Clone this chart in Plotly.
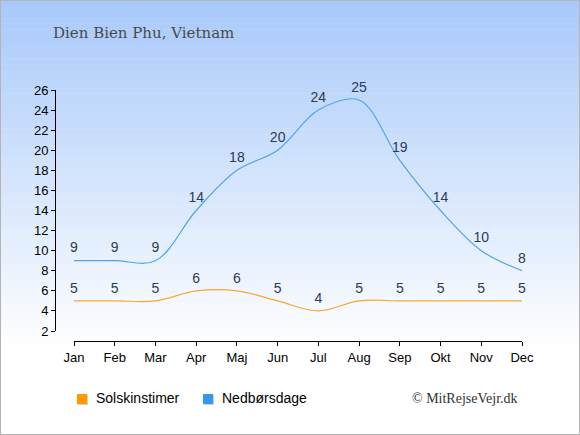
import plotly.graph_objects as go

# Data
months = ["Jan", "Feb", "Mar", "Apr", "Maj", "Jun", "Jul", "Aug", "Sep", "Okt", "Nov", "Dec"]
sol = [5, 5, 5, 6, 6, 5, 4, 5, 5, 5, 5, 5]          # Solskinstimer
regn = [9, 9, 9, 14, 18, 20, 24, 25, 19, 14, 10, 8]  # Nedbørsdage
ytick_vals = list(range(2, 27, 2))
series_names = ["Solskinstimer", "Nedbørsdage"]

W, H = 580, 435


def px_x(x):  # pixel -> paper fraction
    return x / W


def px_y(y):
    return 1 - y / H


fig = go.Figure()

lbl_font = dict(family="Liberation Sans", size=14, color="#2c3b58")
fig.add_trace(go.Scatter(
    x=months, y=sol, mode="lines+markers+text", text=[str(v) for v in sol],
    textposition="top center", textfont=lbl_font, name=series_names[0],
    marker=dict(size=6, opacity=0),
    line=dict(color="#f7a733", width=1.2, shape="spline", smoothing=1),
    showlegend=False, cliponaxis=False, hoverinfo="skip",
))
fig.add_trace(go.Scatter(
    x=months, y=regn, mode="lines+markers+text", text=[str(v) for v in regn],
    textposition="top center", textfont=lbl_font, name=series_names[1],
    marker=dict(size=6, opacity=0),
    line=dict(color="#4ea5ea", width=1.2, shape="spline", smoothing=1),
    showlegend=False, cliponaxis=False, hoverinfo="skip",
))

# background gradient (light blue at top fading to white)
shapes = []
n = 60
top = (168, 201, 250)
stop_px = 350
for i in range(n):
    y0 = i * stop_px / n
    y1 = (i + 1) * stop_px / n + 0.5
    t = i / (n - 1)
    c = tuple(int(round(top[k] + (255 - top[k]) * t)) for k in range(3))
    shapes.append(dict(type="rect", xref="paper", yref="paper", x0=0, x1=1,
                       y0=px_y(y1), y1=px_y(y0), fillcolor="rgb(%d,%d,%d)" % c,
                       line=dict(width=0), layer="below"))
shapes.append(dict(type="rect", xref="paper", yref="paper", x0=0, x1=1, y0=0, y1=1,
                   line=dict(color="#b4b4b4", width=2), fillcolor="rgba(0,0,0,0)", layer="above"))

# hand made legend: small squares + labels
annotations = []
legend_items = [(77, "#ff9900", series_names[0]), (203, "#3399ee", series_names[1])]
for lx, col, name in legend_items:
    shapes.append(dict(type="rect", xref="paper", yref="paper",
                       x0=px_x(lx + 1), x1=px_x(lx + 11), y0=px_y(405), y1=px_y(395),
                       fillcolor="#d0d0d0", line=dict(width=0)))
    shapes.append(dict(type="rect", xref="paper", yref="paper",
                       x0=px_x(lx), x1=px_x(lx + 10), y0=px_y(404), y1=px_y(394),
                       fillcolor=col, line=dict(width=0)))
    annotations.append(dict(text=name, xref="paper", yref="paper", x=px_x(lx + 17), y=px_y(398),
                            xanchor="left", yanchor="middle", showarrow=False,
                            font=dict(family="Liberation Sans", size=14, color="black")))

annotations += [
    dict(text="Dien Bien Phu, Vietnam", xref="paper", yref="paper", x=px_x(51), y=px_y(33),
         xanchor="left", yanchor="middle", showarrow=False,
         font=dict(family="DejaVu Serif", size=15, color="#4a4a4a")),
    dict(text="© MitRejseVejr.dk", xref="paper", yref="paper", x=px_x(520), y=px_y(398),
         xanchor="right", yanchor="middle", showarrow=False,
         font=dict(family="Liberation Serif", size=14, color="#333333")),
]

fig.update_layout(
    width=W, height=H,
    margin=dict(l=0, r=0, t=0, b=0),
    paper_bgcolor="white", plot_bgcolor="rgba(0,0,0,0)",
    shapes=shapes, annotations=annotations, showlegend=False,
    font=dict(family="Liberation Sans", size=13, color="black"),
    xaxis=dict(domain=[px_x(74), px_x(522)], anchor="free", position=px_y(341),
               range=[0, 11], showgrid=False, showline=True, linecolor="black", linewidth=1,
               ticks="outside", ticklen=4, tickcolor="black", zeroline=False,
               automargin=False, tickfont=dict(size=13)),
    yaxis=dict(domain=[px_y(331), px_y(90)], anchor="free", position=px_x(55),
               range=[2, 26], tickvals=ytick_vals, showgrid=False, showline=True,
               linecolor="black", linewidth=1, ticks="outside", ticklen=4, tickcolor="black",
               zeroline=False, automargin=False, tickfont=dict(size=13)),
)

fig.write_html("out.html", config={"displayModeBar": False},
               post_script="document.body.style.margin='0';document.body.style.overflow='hidden';")
